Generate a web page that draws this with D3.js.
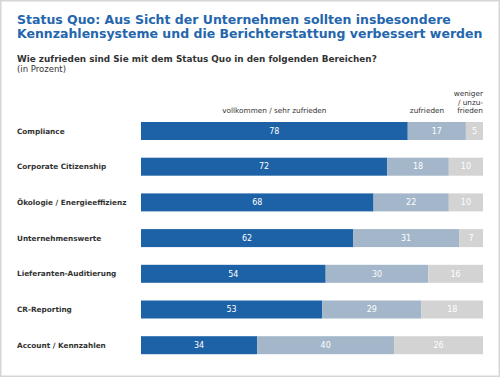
<!DOCTYPE html>
<html>
<head>
<meta charset="utf-8">
<script src="https://cdn.jsdelivr.net/npm/d3@7"></script>
<style>
  body { margin: 0; background: #fff; }
  svg { display: block; font-family: "DejaVu Sans", Verdana, sans-serif; }
</style>
</head>
<body>
<svg id="chart" width="500" height="377"></svg>
<script>
// data
var categories = ["Compliance", "Corporate Citizenship", "Ökologie / Energieeffizienz",
                  "Unternehmenswerte", "Lieferanten-Auditierung", "CR-Reporting", "Account / Kennzahlen"];
var vollkommen = [78, 72, 68, 62, 54, 53, 34];
var zufrieden  = [17, 18, 22, 31, 30, 29, 40];
var weniger    = [5, 10, 10, 7, 16, 18, 26];
var seriesKeys = ["vollkommen", "zufrieden", "weniger"];
var colors = ["#1d61a6", "#a3b6ca", "#d3d3d3"];

var svg = d3.select("#chart");

// frame
svg.append("rect")
    .attr("x", 0.5).attr("y", 0.5)
    .attr("width", 499).attr("height", 376)
    .attr("fill", "none")
    .attr("stroke", "#d6d6d6")
    .attr("stroke-width", 2);

// titles
var title = svg.append("text")
    .attr("x", 17)
    .attr("fill", "#2466ad")
    .style("font-size", "12.5px")
    .style("font-weight", "bold");
title.append("tspan").attr("x", 17).attr("y", 23.5).text("Status Quo: Aus Sicht der Unternehmen sollten insbesondere");
title.append("tspan").attr("x", 17).attr("y", 37.5).text("Kennzahlensysteme und die Berichterstattung verbessert werden");

svg.append("text")
    .attr("x", 17).attr("y", 62)
    .attr("fill", "#333")
    .style("font-size", "8.85px")
    .style("font-weight", "bold")
    .text("Wie zufrieden sind Sie mit dem Status Quo in den folgenden Bereichen?");

svg.append("text")
    .attr("x", 17).attr("y", 72)
    .attr("fill", "#333")
    .style("font-size", "8.5px")
    .text("(in Prozent)");

// table for the stack
var table = categories.map(function(c, i) {
  return {cat: c, vollkommen: vollkommen[i], zufrieden: zufrieden[i], weniger: weniger[i]};
});

var x = d3.scaleLinear()
    .domain([0, 100])
    .range([141, 483]);

var y = d3.scaleBand()
    .domain(categories)
    .range([122, 354.2])
    .paddingInner(0.496)
    .paddingOuter(0);

var z = d3.scaleOrdinal().domain(seriesKeys).range(colors);

var stacked = d3.stack().keys(seriesKeys)(table);

var serie = svg.selectAll(".serie")
  .data(stacked)
  .enter().append("g")
    .attr("class", "serie")
    .attr("fill", function(d) { return z(d.key); });

serie.selectAll("rect")
  .data(function(d) { return d; })
  .enter().append("rect")
    .attr("x", function(d) { return x(d[0]); })
    .attr("y", function(d) { return y(d.data.cat); })
    .attr("width", function(d) { return x(d[1]) - x(d[0]); })
    .attr("height", y.bandwidth());

serie.selectAll("text")
  .data(function(d) { return d; })
  .enter().append("text")
    .attr("x", function(d) { return (x(d[0]) + x(d[1])) / 2; })
    .attr("y", function(d) { return y(d.data.cat) + y.bandwidth() / 2; })
    .attr("dy", "0.35em")
    .attr("text-anchor", "middle")
    .attr("fill", "#fff")
    .style("font-size", "8px")
    .text(function(d) { return d[1] - d[0]; });

// category labels
svg.selectAll(".cat")
  .data(categories)
  .enter().append("text")
    .attr("class", "cat")
    .attr("x", 17)
    .attr("y", function(d) { return y(d) + y.bandwidth() / 2; })
    .attr("dy", "0.35em")
    .attr("fill", "#333")
    .style("font-size", "7.3px")
    .style("font-weight", "bold")
    .text(function(d) { return d; });

// column headers
var head = svg.append("g")
    .attr("fill", "#333")
    .style("font-size", "7.3px");

head.append("text")
    .attr("x", x(vollkommen[0] / 2)).attr("y", 113)
    .attr("text-anchor", "middle")
    .text("vollkommen / sehr zufrieden");

head.append("text")
    .attr("x", 427).attr("y", 113)
    .attr("text-anchor", "middle")
    .text("zufrieden");

var wen = head.append("text")
    .attr("text-anchor", "end");
["weniger", "/ unzu-", "frieden"].forEach(function(t, i) {
  wen.append("tspan").attr("x", x(100)).attr("y", 96 + i * 8.5).text(t);
});
</script>
</body>
</html>
